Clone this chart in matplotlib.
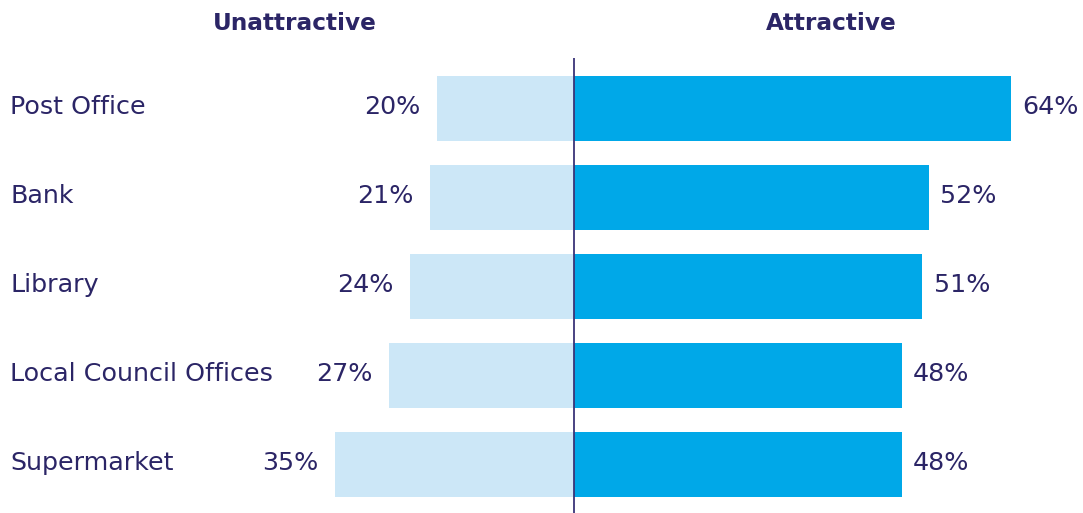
import matplotlib
matplotlib.use("Agg")
import matplotlib.pyplot as plt

categories = ["Post Office", "Bank", "Library", "Local Council Offices", "Supermarket"]
unattractive = [20, 21, 24, 27, 35]
attractive = [64, 52, 51, 48, 48]

TEXT = "#2b2566"
LIGHT = "#cce7f7"
BRIGHT = "#00a8e8"
LINE = "#3a3478"

plt.rcParams["font.family"] = ["DejaVu Sans"]

fig = plt.figure(figsize=(10.83, 5.13), dpi=100)
ax = fig.add_axes([0, 0, 1, 1])
ax.set_xlim(-84.0, 74.5)
ax.set_ylim(4.545, -1.219)
ax.axis("off")

ypos = list(range(len(categories)))
ax.barh(ypos, [-v for v in unattractive], height=0.73, color=LIGHT, zorder=1)
ax.barh(ypos, attractive, height=0.73, color=BRIGHT, zorder=1)
ax.plot([0, 0], [-0.567, 4.545], color=LINE, lw=1.3, zorder=3, solid_capstyle="butt")

fs = 18.3
for y, name, u, a in zip(ypos, categories, unattractive, attractive):
    ax.text(-82.5, y - 0.02, name, ha="left", va="center", fontsize=fs, color=TEXT)
    ax.annotate(f"{u}%", (-u, y - 0.02), xytext=(-12, 0), textcoords="offset points",
                ha="right", va="center", fontsize=fs, color=TEXT)
    ax.annotate(f"{a}%", (a, y - 0.02), xytext=(8, 0), textcoords="offset points",
                ha="left", va="center", fontsize=fs, color=TEXT)

ax.text(-40.8, -0.95, "Unattractive", ha="center", va="center", fontsize=16.7,
        fontweight="bold", color=TEXT)
ax.text(37.6, -0.95, "Attractive", ha="center", va="center", fontsize=16.7,
        fontweight="bold", color=TEXT)

fig.savefig("out.png", dpi=100, facecolor="white")
